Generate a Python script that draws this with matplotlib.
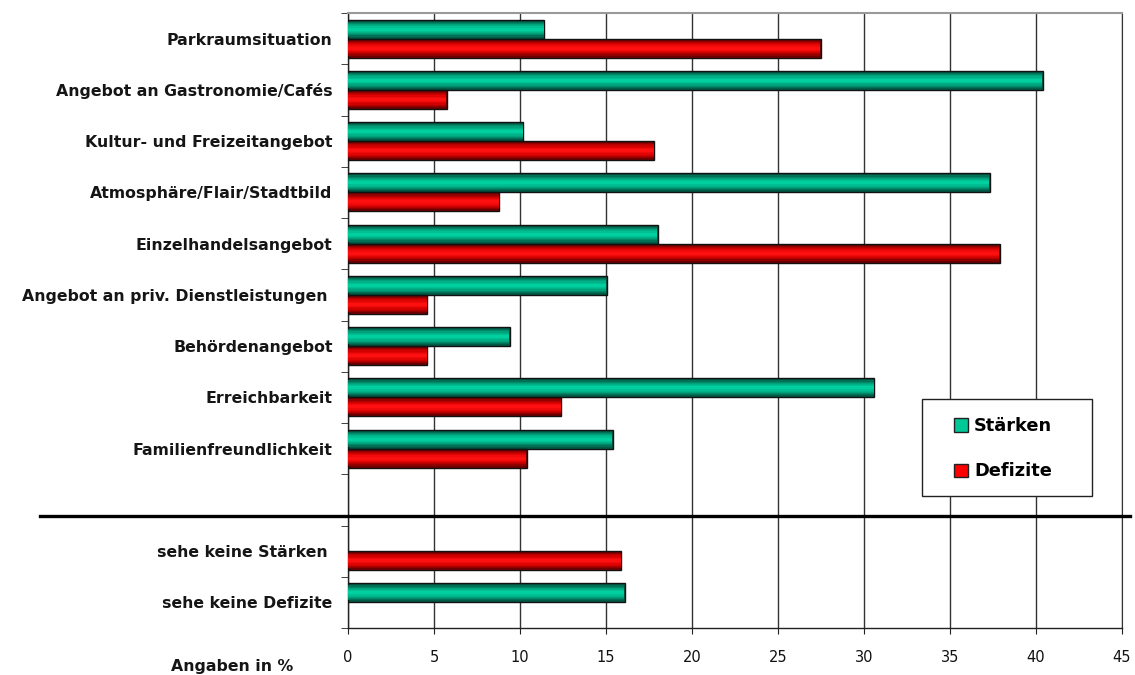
import numpy as np
import matplotlib
matplotlib.use("Agg")
import matplotlib.pyplot as plt
from matplotlib.lines import Line2D
from matplotlib.patches import Rectangle, Patch

categories = ["Parkraumsituation", "Angebot an Gastronomie/Cafés", "Kultur- und Freizeitangebot",
              "Atmosphäre/Flair/Stadtbild", "Einzelhandelsangebot", "Angebot an priv. Dienstleistungen ",
              "Behördenangebot", "Erreichbarkeit", "Familienfreundlichkeit", "",
              "sehe keine Stärken ", "sehe keine Defizite"]
staerken = [11.4, 40.4, 10.2, 37.3, 18.0, 15.05, 9.4, 30.6, 15.4, None, None, 16.1]
defizite = [27.5, 5.75, 17.8, 8.8, 37.9, 4.6, 4.6, 12.4, 10.4, None, 15.9, None]
xticks = [0, 5, 10, 15, 20, 25, 30, 35, 40, 45]
series_names = ["Stärken", "Defizite"]

fig = plt.figure(figsize=(11.35, 6.75), dpi=100)
ax = fig.add_axes([348/1135, 1-628/675, 774/1135, 615/675])

bar_h = 0.37
off = 0.185

def shaded_bars(ax, ypos, vals, dark, mid, bright):
    ys = [y for y, v in zip(ypos, vals) if v is not None]
    ws = [v for v in vals if v is not None]
    ax.barh(ys, ws, height=bar_h, color=dark, edgecolor='#111111', linewidth=1.0, zorder=3)
    n = 6
    dark_c = np.array(matplotlib.colors.to_rgb(dark))
    mid_c = np.array(matplotlib.colors.to_rgb(mid))
    bright_c = np.array(matplotlib.colors.to_rgb(bright))
    for k in range(1, n + 1):
        t = k / n
        if t < 0.5:
            c = dark_c + (mid_c - dark_c) * (t / 0.5)
        else:
            c = mid_c + (bright_c - mid_c) * ((t - 0.5) / 0.5)
        h = bar_h * (1 - 0.75 * t) - 0.03
        ax.barh(ys, [w - 0.05 for w in ws], left=0.02, height=h, color=c,
                linewidth=0, zorder=3 + k * 0.01)

pos = np.arange(len(categories))
shaded_bars(ax, pos - off, staerken, '#005a46', '#00a07a', '#00d0a0')
shaded_bars(ax, pos + off, defizite, '#700000', '#d00000', '#ff1010')

ax.set_xlim(0, 45)
ax.set_ylim(len(categories) - 0.5, -0.5)
ax.set_xticks(xticks)
ax.set_xticklabels([str(x) for x in xticks], fontsize=10.5, color='#111111')
ax.tick_params(axis='x', direction='out', length=4, pad=12, color='#222222')

ax.set_yticks(pos)
ax.set_yticklabels(categories, fontsize=11.3, fontweight='bold', color='#151515')
ax.tick_params(axis='y', which='major', length=0, pad=11)
ax.set_yticks(np.arange(-0.5, len(categories) + 0.5, 1.0), minor=True)
ax.tick_params(axis='y', which='minor', length=5, direction='out', color='#222222')

ax.set_axisbelow(True)
ax.xaxis.grid(True, color='#333333', linewidth=1.0)
for s in ['left', 'bottom']:
    ax.spines[s].set_color('#222222')
    ax.spines[s].set_linewidth(1.0)
ax.spines['top'].set_color('#999999')
ax.spines['top'].set_linewidth(1.5)
ax.spines['right'].set_color('#333333')

# separator line
fig.add_artist(Line2D([40/1135, 1130/1135], [1-516/675, 1-516/675], color='black', linewidth=2.4))

fig.text(232/1135, 1-666/675, "Angaben in %", ha='center', va='center', fontsize=11.3,
         fontweight='bold', color='#151515')

# legend frame
ax.add_patch(Rectangle(((922-348)/774, (628-496)/615), 170/774, 97/615, transform=ax.transAxes,
                       facecolor='white', edgecolor='#222222', linewidth=1.0, zorder=10, clip_on=False))
handles = [Patch(facecolor='#00c896', edgecolor='#222222'),
           Patch(facecolor='#ff0000', edgecolor='#222222')]
leg = ax.legend(handles, series_names, loc='center left',
                bbox_to_anchor=((954-348)/774, (628-448.7)/615),
                frameon=False, prop={'size': 12.8, 'weight': 'bold'}, handlelength=0.8, handleheight=0.8,
                handletextpad=0.32, labelspacing=1.55, borderpad=0, borderaxespad=0)
leg.set_zorder(11)

fig.savefig("out.png", dpi=100)
